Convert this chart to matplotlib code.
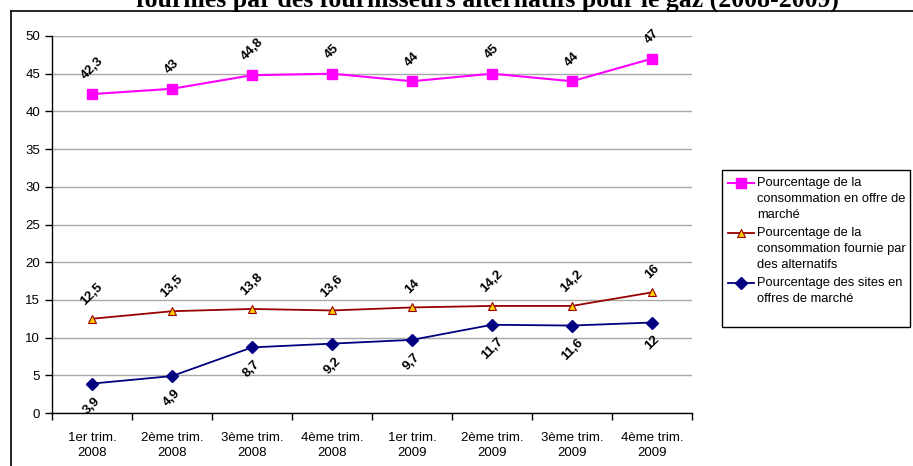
import matplotlib
matplotlib.use("Agg")
import matplotlib.pyplot as plt
from matplotlib.lines import Line2D
from matplotlib.patches import Rectangle

plt.rcParams["font.family"] = ["Liberation Sans", "DejaVu Sans"]

quarters = ["1er trim.\n2008", "2ème trim.\n2008", "3ème trim.\n2008", "4ème trim.\n2008",
            "1er trim.\n2009", "2ème trim.\n2009", "3ème trim.\n2009", "4ème trim.\n2009"]
conso_offre = [42.3, 43, 44.8, 45, 44, 45, 44, 47]
conso_altern = [12.5, 13.5, 13.8, 13.6, 14, 14.2, 14.2, 16]
sites_offre = [3.9, 4.9, 8.7, 9.2, 9.7, 11.7, 11.6, 12]

series_names = [
    ["Pourcentage de la", "consommation en offre de", "marché"],
    ["Pourcentage de la", "consommation fournie par", "des alternatifs"],
    ["Pourcentage des sites en", "offres de marché"],
]

W, H = 913, 466
fig = plt.figure(figsize=(W / 100, H / 100), dpi=100, facecolor="white")
ax = fig.add_axes([52 / W, (H - 413) / H, 640 / W, 377 / H])

x = list(range(len(quarters)))

style_offre = dict(color="#FF00FF", lw=1.5, marker="s", ms=7, mfc="#FF00FF", mec="#FF00FF")
style_altern = dict(color="#990000", lw=1.3, marker="^", ms=5.5, mfc="#FFCC00",
                    mec="#990000", mew=0.8)
style_sites = dict(color="#000080", lw=1.3, marker="D", ms=6, mfc="#000080", mec="#000080")
styles = [style_offre, style_altern, style_sites]

ax.plot(x, conso_offre, zorder=4, **style_offre)
ax.plot(x, conso_altern, zorder=4, **style_altern)
ax.plot(x, sites_offre, zorder=4, **style_sites)


def fmt(v):
    return f"{v:g}".replace(".", ",")


lbl = dict(textcoords="offset points", rotation=45, ha="center",
           fontsize=9.5, fontweight="bold")
for xi, v in zip(x, conso_offre):
    ax.annotate(fmt(v), (xi, v), xytext=(0, 9), va="bottom", **lbl)
for xi, v in zip(x, conso_altern):
    ax.annotate(fmt(v), (xi, v), xytext=(0, 8), va="bottom", **lbl)
for xi, v in zip(x, sites_offre):
    ax.annotate(fmt(v), (xi, v), xytext=(0, -8), va="top", **lbl)

ax.set_xlim(-0.5, len(quarters) - 0.5)
ax.set_ylim(0, 50)
ax.set_yticks(range(0, 51, 5))
ax.yaxis.grid(True, color="#A8A8A8", lw=1)
ax.set_axisbelow(True)

ax.set_xticks(x)
ax.set_xticklabels(quarters, fontsize=9.5, linespacing=1.3)
ax.set_xticks([i - 0.5 for i in range(len(quarters) + 1)], minor=True)
ax.tick_params(axis="x", which="major", length=0, pad=14)
ax.tick_params(axis="x", which="minor", length=5, direction="out", width=1)
ax.tick_params(axis="y", length=5, direction="out", labelsize=9.5, width=1)

for side in ("top", "right"):
    ax.spines[side].set_visible(False)
for side in ("left", "bottom"):
    ax.spines[side].set_color("black")
    ax.spines[side].set_linewidth(1)

# legend drawn by hand: Excel puts the key on the first text line
fig.add_artist(Rectangle((722 / W, (H - 327) / H), 188 / W, 157 / H,
                         transform=fig.transFigure, fill=False,
                         edgecolor="black", lw=1))
entry_top = [183, 233, 283]
line_step = 16
for top, names, st in zip(entry_top, series_names, styles):
    yf = (H - top) / H
    fig.add_artist(Line2D([728 / W, 741 / W, 754 / W], [yf, yf, yf],
                          transform=fig.transFigure, markevery=[1], **st))
    for k, line in enumerate(names):
        fig.text(757 / W, (H - top - k * line_step) / H, line,
                 ha="left", va="center", fontsize=9.25)

# outer frame (only left and top edges are visible)
fig.add_artist(Line2D([11 / W, 11 / W], [0, (H - 11) / H], color="black", lw=1.2,
                      transform=fig.transFigure))
fig.add_artist(Line2D([11 / W, 1], [(H - 11) / H, (H - 11) / H], color="black", lw=1.2,
                      transform=fig.transFigure))

fig.text(487 / W, (H - 7) / H,
         "fournies par des fournisseurs alternatifs pour le gaz (2008-2009)",
         ha="center", va="baseline", fontsize=18.5, fontweight="bold",
         family=["Liberation Serif", "DejaVu Serif"])

fig.savefig("out.png", dpi=100, facecolor="white")
